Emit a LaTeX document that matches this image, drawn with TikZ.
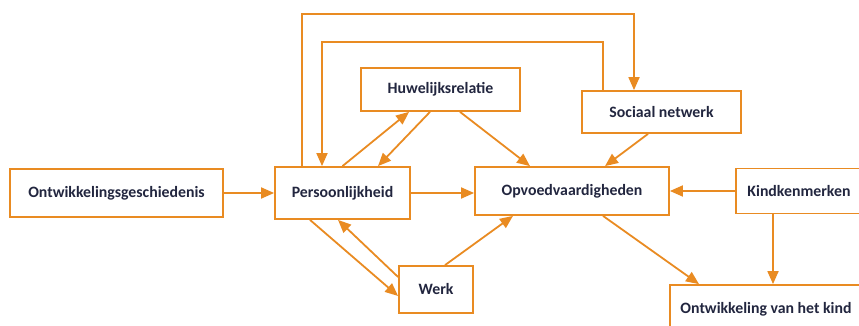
\documentclass[tikz,border=0pt]{standalone}
\usepackage{fontspec}
\setmainfont{Carlito}
\usetikzlibrary{arrows.meta,positioning}
\definecolor{oranje}{HTML}{E98B22}
\definecolor{inkt}{HTML}{22263F}
\tikzset{%
box/.style={draw=oranje,line width=1.8pt,fill=white,rectangle,inner sep=0pt,text=inkt,
  font=\fontsize{15.8}{18}\selectfont\bfseries,minimum width=#1},
conn/.style={draw=oranje,line width=1.8pt,-{Triangle[length=13pt,width=11pt]}},
line/.style={draw=oranje,line width=1.8pt}
}
\begin{document}
\begin{tikzpicture}[x=1pt,y=-1pt]
\useasboundingbox (0,0) rectangle (859,326);
% boxes
\node[box=213,minimum height=48] (ontw) at (116.5,193) {Ontwikkelingsgeschiedenis};
\node[box=135,minimum height=52] (pers) at (342.5,193) {Persoonlijkheid};
\node[box=159,minimum height=43] (huw)  at (440.5,89.5) {Huwelijksrelatie};
\node[box=159,minimum height=42] (soc)  at (661.5,112) {Sociaal netwerk};
\node[box=194,minimum height=48] (opv)  at (572,191) {Opvoedvaardigheden};
\node[box=126,minimum height=45] (kind) at (799,191) {Kindkenmerken};
\node[box=192,minimum height=48] (ontk) at (766,309) {Ontwikkeling van het kind};
\node[box=74,minimum height=47]  (werk) at (436,289.5) {Werk};
% corners of the two loops
\coordinate (outTop) at (634,14);
\coordinate (inTop) at (322,42);
% connectors
\draw[conn] (ontw.east) -- (pers.west);
\draw[conn] (pers.east) -- (pers.east -| opv.west);
\draw[conn] (kind.west) -- (kind.west -| opv.east);
\draw[conn] (pers.north) -- ([xshift=-31.5]huw.south);
\draw[conn] ([xshift=-10.5]huw.south) -- ([xshift=35.5]pers.north);
\draw[conn] ([xshift=19.5]huw.south) -- ([xshift=-42]opv.north);
\draw[conn] ([xshift=-13.5]soc.south) -- ([xshift=33]opv.north);
\draw[conn] ([xshift=-26]kind.south) -- ([xshift=-26]kind.south |- ontk.north);
\draw[conn] ([xshift=31]opv.south) -- ([xshift=-67]ontk.north);
\draw[conn] ([xshift=9]werk.north) -- ([xshift=-59]opv.south);
\draw[conn] ([xshift=-32.5]pers.south) -- ([yshift=-6.5]werk.west);
\draw[conn] ([yshift=12.5]werk.west) -- ([xshift=-4.5]pers.south);
\draw[conn] ([xshift=-40.5]pers.north) |- (outTop) -- ([xshift=-27.5]soc.north);
\draw[conn] ([xshift=-58.5]soc.north) |- (inTop) -- ([xshift=-20.5]pers.north);
\end{tikzpicture}
\end{document}
